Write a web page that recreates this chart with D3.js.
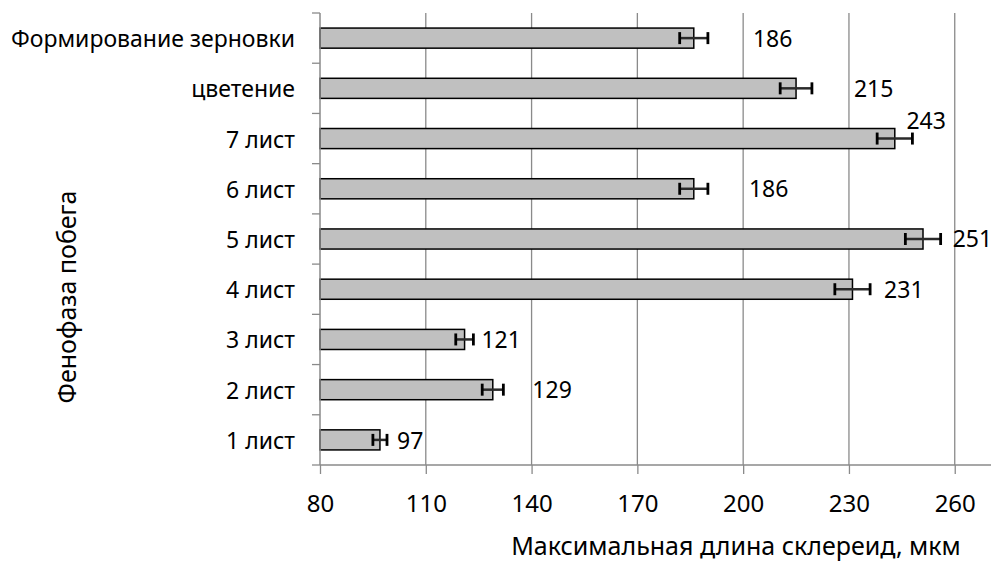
<!DOCTYPE html>
<html>
<head>
<meta charset="utf-8">
<script src="https://cdn.jsdelivr.net/npm/d3@7"></script>
<style>
  html, body { margin: 0; padding: 0; background: #fff; }
  svg { display: block; }
  text { font-family: "Noto Sans", "Open Sans", sans-serif; fill: #000; }
</style>
</head>
<body>
<svg id="chart" width="991" height="561"></svg>
<script>
// Phenophases of the shoot, listed top to bottom
const phases = ["Формирование зерновки", "цветение", "7 лист", "6 лист", "5 лист", "4 лист", "3 лист", "2 лист", "1 лист"];
// Maximum sclereid length, µm
const lengths = [186, 215, 243, 186, 251, 231, 121, 129, 97];
// Error (±) for each phase, µm
const errors = [4, 4.5, 5, 4, 5, 5, 2.5, 3, 2];
// X axis tick values
const xTicks = [80, 110, 140, 170, 200, 230, 260];

// Value label placement (pixels, relative to the error bar end)
const labelDx = [45, 42, -6, 41, 12, 14, 8, 29, 10];
const labelDy = [1, 1, -18, 0, 0, 1, 1, 0, 1];

const svg = d3.select("#chart");
const margin = { left: 320, right: 1, top: 13, bottom: 96 };
const W = 991, H = 561;

const x = d3.scaleLinear().domain([80, 270]).range([margin.left, W - margin.right]);
const y = d3.scaleBand().domain(phases)
  .range([margin.top, H - margin.bottom])
  .paddingInner(0.6).paddingOuter(0.3);

const gridColor = "#8a8a8a";

// vertical gridlines
svg.append("g").selectAll("line")
  .data(xTicks.slice(1))
  .join("line")
  .attr("x1", d => x(d)).attr("x2", d => x(d))
  .attr("y1", margin.top).attr("y2", H - margin.bottom)
  .attr("stroke", gridColor).attr("stroke-width", 1.3);

// bars
svg.append("g").selectAll("rect")
  .data(phases)
  .join("rect")
  .attr("x", x(80))
  .attr("y", d => y(d))
  .attr("width", (d, i) => x(lengths[i]) - x(80))
  .attr("height", y.bandwidth())
  .attr("fill", "#c0c0c0")
  .attr("stroke", "#000")
  .attr("stroke-width", 1.5);

// error bars
const eb = svg.append("g").selectAll("g")
  .data(phases)
  .join("g")
  .attr("transform", d => `translate(0,${y(d) + y.bandwidth() / 2})`);
eb.append("line")
  .attr("x1", (d, i) => x(lengths[i] - errors[i]))
  .attr("x2", (d, i) => x(lengths[i] + errors[i]))
  .attr("stroke", "#2a2a2a").attr("stroke-width", 2.5);
eb.selectAll("line.cap")
  .data((d, i) => [lengths[i] - errors[i], lengths[i] + errors[i]])
  .join("line")
  .attr("class", "cap")
  .attr("x1", v => x(v)).attr("x2", v => x(v))
  .attr("y1", -6).attr("y2", 6)
  .attr("stroke", "#000").attr("stroke-width", 2.8);

// value labels
svg.append("g").selectAll("text")
  .data(phases)
  .join("text")
  .attr("x", (d, i) => x(lengths[i] + errors[i]) + labelDx[i])
  .attr("y", (d, i) => y(d) + y.bandwidth() / 2 + labelDy[i])
  .attr("dy", "0.35em")
  .attr("font-size", 23)
  .attr("fill", "#111")
  .text((d, i) => lengths[i]);

// y axis (category boundaries as ticks)
const yAxisG = svg.append("g");
yAxisG.append("line")
  .attr("x1", margin.left).attr("x2", margin.left)
  .attr("y1", margin.top).attr("y2", H - margin.bottom)
  .attr("stroke", gridColor).attr("stroke-width", 1.5);
const boundaries = phases.map(p => y(p) - y.step() * y.paddingInner() / 2)
  .concat([H - margin.bottom]);
yAxisG.selectAll("line.tk")
  .data(boundaries)
  .join("line")
  .attr("class", "tk")
  .attr("x1", margin.left - 8).attr("x2", margin.left)
  .attr("y1", d => d).attr("y2", d => d)
  .attr("stroke", gridColor).attr("stroke-width", 1.3);
yAxisG.selectAll("text")
  .data(phases)
  .join("text")
  .attr("x", 295)
  .attr("y", d => y(d) + y.bandwidth() / 2 + 1)
  .attr("dy", "0.35em")
  .attr("text-anchor", "end")
  .attr("font-size", 23)
  .text(d => d);

// x axis
const xAxis = d3.axisBottom(x).tickValues(xTicks).tickSize(9).tickPadding(21);
const xg = svg.append("g")
  .attr("transform", `translate(0,${H - margin.bottom})`)
  .call(xAxis);
xg.select(".domain").attr("stroke", gridColor).attr("stroke-width", 1.5)
  .attr("d", `M${margin.left},0H${W}`);
xg.selectAll(".tick line").attr("stroke", gridColor).attr("stroke-width", 1.3);
xg.selectAll(".tick text")
  .attr("font-size", 24)
  .attr("font-family", "'Noto Sans', sans-serif")
  .attr("fill", "#111");

// axis titles
svg.append("text")
  .attr("x", 736).attr("y", 555)
  .attr("text-anchor", "middle")
  .attr("font-size", 25)
  .text("Максимальная длина склереид, мкм");

svg.append("text")
  .attr("transform", "translate(67,297) rotate(-90)")
  .attr("dy", "0.35em")
  .attr("text-anchor", "middle")
  .attr("font-size", 25)
  .text("Фенофаза побега");
</script>
</body>
</html>
